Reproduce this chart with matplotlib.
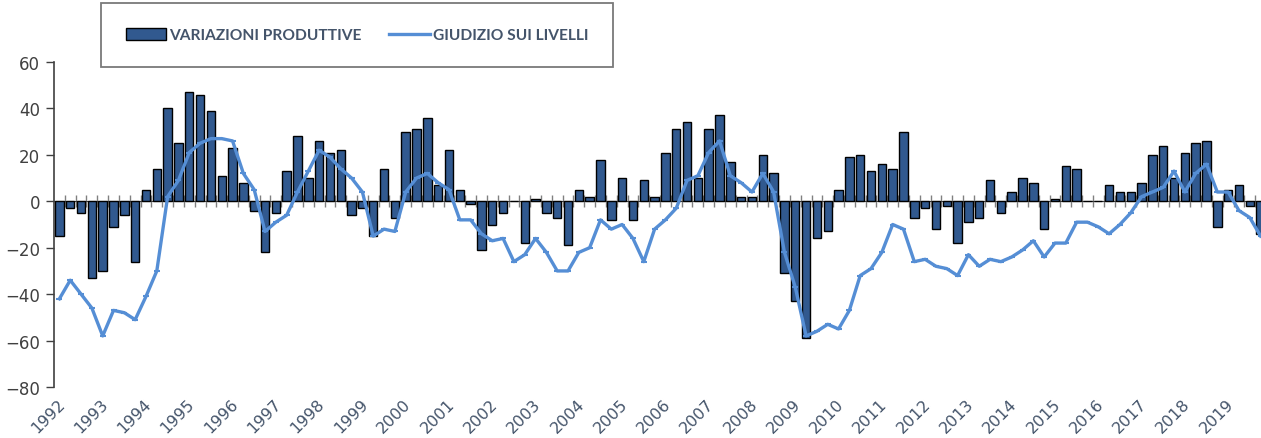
import numpy as np
import matplotlib
matplotlib.use('Agg')
import matplotlib.pyplot as plt
import matplotlib.transforms as mtransforms
from matplotlib.patches import Patch
from matplotlib.lines import Line2D

#> quarterly data 1992Q1 - 2019Q4
years = list(range(1992, 2020))

variazioni = [
    -15, -3, -5, -33,   # 1992
    -30, -11, -6, -26,  # 1993
    5, 14, 40, 25,      # 1994
    47, 46, 39, 11,     # 1995
    23, 8, -4, -22,     # 1996
    -5, 13, 28, 10,     # 1997
    26, 21, 22, -6,     # 1998
    -3, -15, 14, -7,    # 1999
    30, 31, 36, 7,      # 2000
    22, 5, -1, -21,     # 2001
    -10, -5, 0, -18,    # 2002
    1, -5, -7, -19,     # 2003
    5, 2, 18, -8,       # 2004
    10, -8, 9, 2,       # 2005
    21, 31, 34, 10,     # 2006
    31, 37, 17, 2,      # 2007
    2, 20, 12, -31,     # 2008
    -43, -59, -16, -13, # 2009
    5, 19, 20, 13,      # 2010
    16, 14, 30, -7,     # 2011
    -3, -12, -2, -18,   # 2012
    -9, -7, 9, -5,      # 2013
    4, 10, 8, -12,      # 2014
    1, 15, 14, 0,       # 2015
    0, 7, 4, 4,         # 2016
    8, 20, 24, 10,      # 2017
    21, 25, 26, -11,    # 2018
    5, 7, -2, -14,      # 2019
]

giudizio = [
    -42, -34, -40, -46,
    -58, -47, -48, -51,
    -41, -30, 2, 9,
    21, 25, 27, 27,
    26, 12, 5, -13,
    -9, -6, 4, 13,
    22, 19, 14, 10,
    4, -15, -12, -13,
    4, 10, 12, 8,
    5, -8, -8, -14,
    -17, -16, -26, -23,
    -16, -22, -30, -30,
    -22, -20, -8, -12,
    -10, -16, -26, -12,
    -8, -3, 9, 11,
    21, 26, 11, 8,
    4, 12, 4, -22,
    -37, -58, -56, -53,
    -55, -47, -32, -29,
    -22, -10, -12, -26,
    -25, -28, -29, -32,
    -23, -28, -25, -26,
    -24, -21, -17, -24,
    -18, -18, -9, -9,
    -11, -14, -10, -5,
    2, 4, 6, 13,
    4, 12, 16, 4,
    4, -4, -7, -15,
]

x = np.arange(len(variazioni))

bar_col = '#31598F'
line_col = '#558ED5'
lab_col = '#44546A'

plt.rcParams['font.family'] = ['DejaVu Sans']

fig = plt.figure(figsize=(12.61, 4.39), dpi=100)
ax = fig.add_axes([54 / 1261, 51 / 439, 1212 / 1261, 325 / 439])

ax.bar(x, variazioni, width=0.78, color=bar_col, edgecolor='black', linewidth=1.0, zorder=2)
ax.plot(x, giudizio, color=line_col, linewidth=2.4, marker='_', markersize=5,
        markeredgewidth=1.5, zorder=3)

ax.set_xlim(-0.5, len(x) - 0.5)
ax.set_ylim(-80, 60)
ax.set_yticks(np.arange(-80, 61, 20))
ax.tick_params(axis='y', direction='out', length=6, width=1, color='#404040',
               labelsize=12, labelcolor='#404040', pad=4)

# year labels along the bottom
ax.set_xticks(x[::4])
ax.set_xticklabels([str(y) for y in years], rotation=45, ha='right', va='center',
                   rotation_mode='anchor', fontsize=11.5, color=lab_col)
ax.tick_params(axis='x', length=0, pad=10)
shift = mtransforms.ScaledTranslation(3 / 100, 0, fig.dpi_scale_trans)
for lab in ax.get_xticklabels():
    lab.set_transform(lab.get_transform() + shift)

for s in ['top', 'right', 'bottom']:
    ax.spines[s].set_visible(False)
ax.spines['left'].set_color('#404040')
ax.spines['left'].set_linewidth(1.2)

#. zero axis with category boundary ticks
zax = ax.secondary_xaxis(80 / 140)
zax.set_xticks(x[:-1] + 0.5)
zax.tick_params(direction='inout', length=9, width=1, color='#808080', labelbottom=False,
                labeltop=False)
zax.spines['bottom'].set_color('#404040')
zax.spines['bottom'].set_linewidth(1.0)
zax.spines['top'].set_color('#404040')

handles = [Patch(facecolor=bar_col, edgecolor='black', linewidth=1.0),
           Line2D([0], [0], color=line_col, linewidth=2.4)]
leg = fig.legend(handles, ['VARIAZIONI PRODUTTIVE', 'GIUDIZIO SUI LIVELLI'],
                 loc='center', bbox_to_anchor=(357 / 1261, 1 - 36 / 439), ncol=2,
                 frameon=True, fancybox=False, borderpad=1.6, handlelength=2.6,
                 handleheight=0.8, handletextpad=0.2, columnspacing=1.8,
                 prop={'family': 'Lato', 'weight': 'bold', 'size': 11.2})
leg.get_frame().set_edgecolor('#595959')
leg.get_frame().set_linewidth(1.3)
for t in leg.get_texts():
    t.set_color(lab_col)

fig.savefig('out.png', dpi=100)
